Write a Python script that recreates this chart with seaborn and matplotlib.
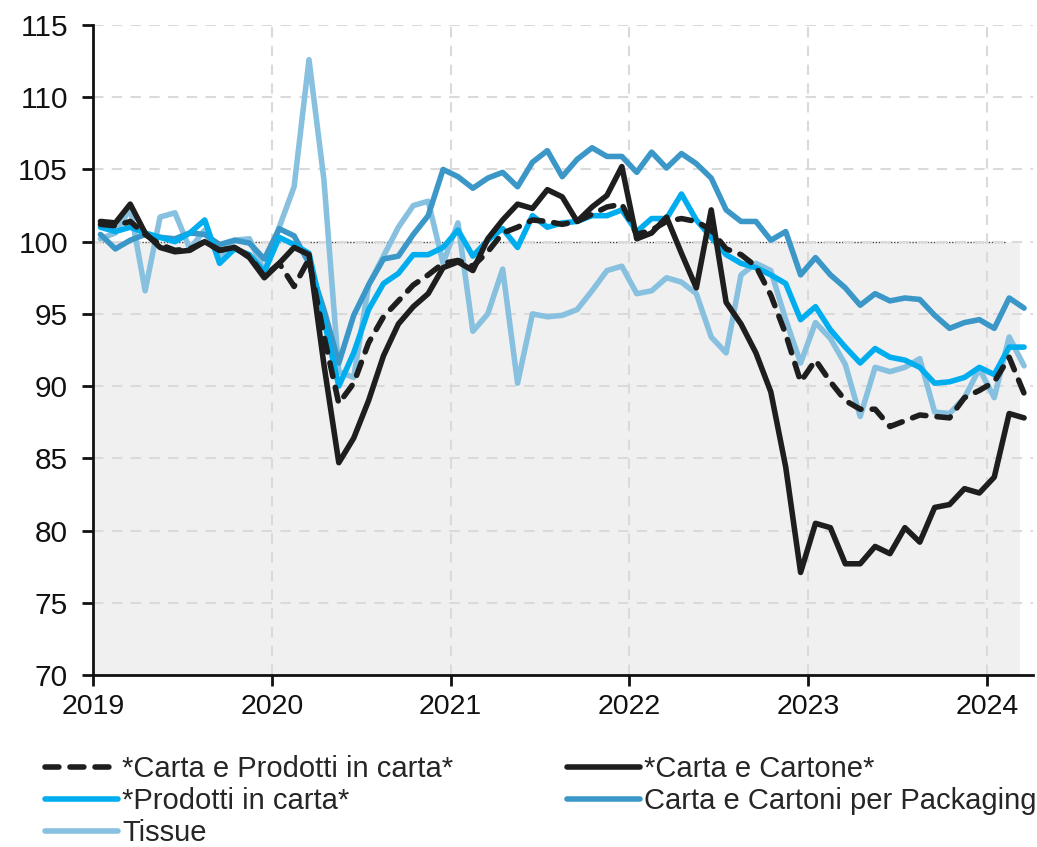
import numpy as np
import pandas as pd
import matplotlib
matplotlib.use("Agg")
import matplotlib.pyplot as plt
import seaborn as sns

# Monthly index values, Jan 2019 - Mar 2024 (base 100)
years = ["2019", "2020", "2021", "2022", "2023", "2024"]

carta_prodotti = [101.2, 101.1, 101.4, 100.5, 99.8, 99.4, 99.5, 100.0, 99.4, 99.6, 99.0, 97.6,
                  98.5, 96.9, 98.8, 93.5, 88.8, 90.2, 93.0, 94.8, 95.9, 97.0, 97.7, 98.5,
                  98.7, 98.3, 99.3, 100.6, 101.0, 101.5, 101.4, 101.2, 101.4, 101.9, 102.4, 102.6,
                  100.5, 100.8, 101.4, 101.6, 101.4, 100.8, 99.5, 99.1, 98.3, 96.3, 93.6, 90.3,
                  91.8, 90.3, 89.0, 88.4, 88.4, 87.2, 87.6, 88.0, 87.9, 87.8, 89.2, 89.7,
                  90.3, 92.0, 89.5]

carta_cartone = [101.4, 101.3, 102.6, 100.6, 99.6, 99.3, 99.4, 100.0, 99.4, 99.6, 98.9, 97.5,
                 98.5, 99.6, 99.1, 91.5, 84.7, 86.4, 89.0, 92.1, 94.3, 95.5, 96.4, 98.2,
                 98.6, 98.0, 100.2, 101.5, 102.6, 102.3, 103.6, 103.1, 101.4, 102.4, 103.2, 105.2,
                 100.2, 100.6, 101.7, 99.2, 96.8, 102.2, 95.8, 94.3, 92.3, 89.6, 84.4, 77.1,
                 80.5, 80.2, 77.7, 77.7, 78.9, 78.4, 80.2, 79.2, 81.6, 81.8, 82.9, 82.6,
                 83.7, 88.1, 87.8]

prodotti_carta = [101.0, 100.7, 101.0, 100.6, 100.3, 100.0, 100.6, 101.5, 98.5, 99.5, 99.1, 97.9,
                  100.3, 99.8, 99.2, 94.6, 90.0, 92.3, 95.3, 97.1, 97.8, 99.1, 99.1, 99.6,
                  100.8, 99.0, 100.1, 100.9, 99.6, 101.8, 101.0, 101.3, 101.4, 101.8, 101.8, 102.2,
                  100.7, 101.6, 101.6, 103.3, 101.5, 100.3, 99.1, 98.5, 98.2, 97.7, 97.1, 94.6,
                  95.5, 93.9, 92.7, 91.6, 92.6, 92.0, 91.8, 91.3, 90.2, 90.3, 90.6, 91.3,
                  90.8, 92.7, 92.7]

packaging = [100.5, 99.5, 100.1, 100.5, 100.3, 100.2, 100.6, 100.5, 99.8, 100.1, 99.9, 98.8,
             100.9, 100.4, 98.5, 95.3, 91.6, 94.9, 97.0, 98.8, 99.0, 100.5, 101.8, 105.0,
             104.5, 103.7, 104.4, 104.8, 103.8, 105.5, 106.3, 104.5, 105.7, 106.5, 105.9, 105.9,
             104.8, 106.2, 105.1, 106.1, 105.4, 104.4, 102.2, 101.4, 101.4, 100.1, 100.7, 97.7,
             98.9, 97.7, 96.8, 95.6, 96.4, 95.9, 96.1, 96.0, 94.9, 94.0, 94.4, 94.6,
             94.0, 96.1, 95.4]

tissue = [100.2, 100.6, 102.3, 96.6, 101.7, 102.0, 99.5, 100.8, 98.9, 100.1, 100.2, 97.9,
          101.0, 103.8, 112.6, 104.3, 91.0, 90.6, 97.0, 99.0, 101.0, 102.5, 102.8, 98.5,
          101.3, 93.8, 95.0, 98.1, 90.2, 95.0, 94.8, 94.9, 95.3, 96.6, 98.0, 98.3,
          96.4, 96.6, 97.5, 97.2, 96.4, 93.4, 92.3, 97.7, 98.5, 98.0, 94.6, 91.6,
          94.4, 93.3, 91.5, 87.9, 91.3, 91.0, 91.3, 91.9, 88.2, 88.1, 89.2, 91.2,
          89.2, 93.4, 91.4]

labels = ["*Carta e Prodotti in carta*", "*Carta e Cartone*", "*Prodotti in carta*",
          "Carta e Cartoni per Packaging", "Tissue"]
colors = ["#1e1e1e", "#1e1e1e", "#00aeef", "#3a97c8", "#87c1df"]

n = len(carta_cartone)
month = np.arange(n) + 0.5  # months since Jan 2019, centred in month

df = pd.DataFrame({
    "month": month,
    labels[0]: carta_prodotti,
    labels[1]: carta_cartone,
    labels[2]: prodotti_carta,
    labels[3]: packaging,
    labels[4]: tissue,
})

sns.set_style("white")
plt.rcParams["font.family"] = ["Liberation Sans", "DejaVu Sans"]

fig = plt.figure(figsize=(10.37, 8.47), dpi=100)
ax = fig.add_axes([93 / 1037, 1 - 675 / 847, (1033 - 93) / 1037, (675 - 25) / 847])

# shaded band below the base value
ax.fill_between([0, 62.2], 70, 100, color="#f0f0f0", zorder=0, lw=0)
ax.plot([0, 61.2], [100, 100], color="#444444", lw=1.0, ls=(0, (1, 1.2)), zorder=1)

# draw series (packaging and tissue underneath the black ones)
order = [4, 3, 2, 1, 0]
for k in order:
    lab = labels[k]
    kw = dict(color=colors[k], lw=4.0, zorder=3 + (5 - k))
    if k == 0:
        kw["linestyle"] = (0, (2.5, 2.0))
        kw["dash_capstyle"] = "round"
    sns.lineplot(data=df, x="month", y=lab, ax=ax, label=lab, **kw)

ax.set_xlim(0, 63.1)
ax.set_ylim(70, 115)
ax.set_yticks(range(70, 116, 5))
ax.set_xticks(range(0, 61, 12))
ax.set_xticklabels(years)
ax.set_xlabel("")
ax.set_ylabel("")

ax.grid(True, color="#dadada", lw=1.5, ls=(0, (5, 4)), zorder=1)
ax.set_axisbelow(False)
for gl in ax.get_xgridlines() + ax.get_ygridlines():
    gl.set_zorder(1)

for s in ["top", "right"]:
    ax.spines[s].set_visible(False)
for s in ["left", "bottom"]:
    ax.spines[s].set_color("#111111")
    ax.spines[s].set_linewidth(2)
    ax.spines[s].set_zorder(6)

ax.tick_params(axis="both", which="major", colors="#111111",
               length=8, width=2, direction="out", left=True, bottom=True)
ax.tick_params(axis="y", labelsize=21.5, pad=10)
ax.tick_params(axis="x", labelsize=20.5, pad=6)

h, l = ax.get_legend_handles_labels()
ax.get_legend().remove()
lookup = dict(zip(l, h))
# column-wise fill: left column gets the first three entries
legend_order = [labels[0], labels[2], labels[4], labels[1], labels[3]]
fig.legend([lookup[x] for x in legend_order], legend_order, ncol=2, loc="upper left",
           bbox_to_anchor=(45 / 1037, 1 - 755 / 847), frameon=False, fontsize=21,
           handlelength=2.5, handletextpad=0.14, columnspacing=3.9,
           labelspacing=0.14, borderpad=0, borderaxespad=0)

fig.savefig("out.png", dpi=100)
